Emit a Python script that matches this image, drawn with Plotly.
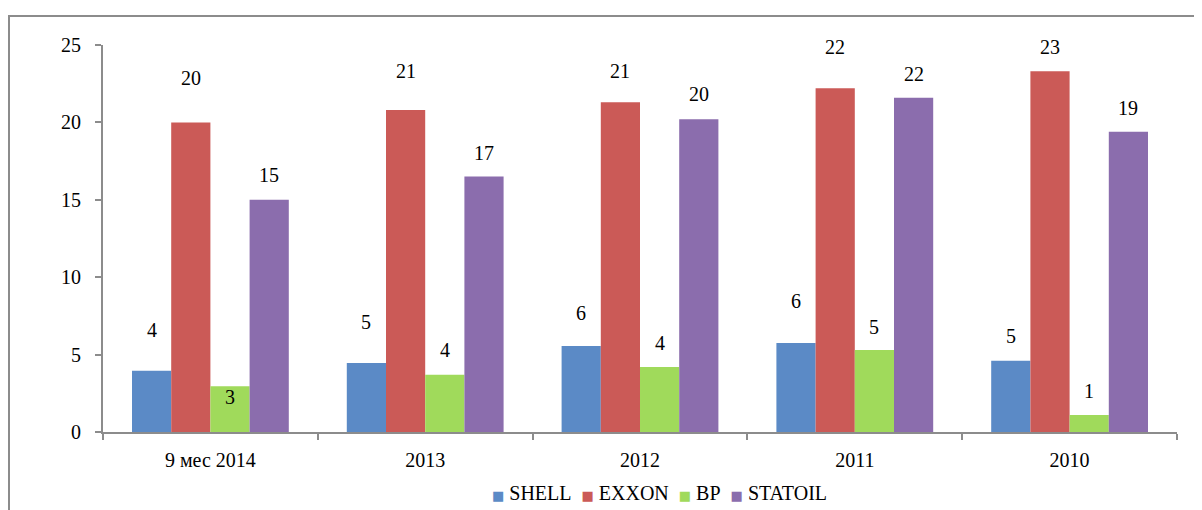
import plotly.graph_objects as go

categories = ["9 мес 2014", "2013", "2012", "2011", "2010"]
series_names = ["SHELL", "EXXON", "BP", "STATOIL"]
shell = [3.95, 4.45, 5.55, 5.75, 4.6]
exxon = [20.0, 20.8, 21.3, 22.2, 23.3]
bp = [2.95, 3.7, 4.2, 5.3, 1.1]
statoil = [15.0, 16.5, 20.2, 21.6, 19.4]
label_text = {
    "SHELL": ["4", "5", "6", "6", "5"],
    "EXXON": ["20", "21", "21", "22", "23"],
    "BP": ["3", "4", "4", "5", "1"],
    "STATOIL": ["15", "17", "20", "22", "19"],
}
# pixel offsets of the label centres above the bar tops (style)
label_shift = {
    "SHELL": [41, 41, 33, 42, 25],
    "EXXON": [44, 39, 31, 41, 24],
    "BP": [-11, 25, 24, 23, 24],
    "STATOIL": [25, 24, 25, 24, 24],
}
colors = ["#5B8AC6", "#CB5A57", "#A0DA5B", "#8B6DAD"]
values = [shell, exxon, bp, statoil]

FONT = "Liberation Serif, Times New Roman, serif"
FS = 20

# figure sits at an 8px body offset in the page
W, H = 1194, 502
ML, MR, MT, MB = 95, 25, 37, 78
PW, PH = W - ML - MR, H - MT - MB

fig = go.Figure()
for name, vals, col in zip(series_names, values, colors):
    fig.add_trace(go.Bar(name=name, x=categories, y=vals, showlegend=False,
                         marker=dict(color=col, line=dict(width=0))))

nser = len(series_names)
bargap = 0.27
bw = (1 - bargap) / nser
annotations = []
for si, (name, vals) in enumerate(zip(series_names, values)):
    for ci, v in enumerate(vals):
        xpos = ci - (1 - bargap) / 2 + bw * (si + 0.5)
        annotations.append(dict(
            x=xpos, y=v, xref="x", yref="y", text=label_text[name][ci],
            showarrow=False, yshift=label_shift[name][ci],
            font=dict(family=FONT, size=FS, color="#000000"),
        ))

NB = "\u00a0"
legend_text = (NB * 2).join(
    f"<span style='color:{c};font-size:13px;font-family:DejaVu Sans'>■</span>{NB}{n}"
    for n, c in zip(series_names, colors)
)
annotations.append(dict(
    x=(659 - 8 - ML) / PW, y=-(493 - 8 - (MT + PH)) / PH, xref="paper", yref="paper",
    xanchor="center", yanchor="middle", showarrow=False, text=legend_text,
    font=dict(family=FONT, size=FS, color="#000000"),
))

fig.update_layout(
    barmode="group", bargap=bargap, bargroupgap=0,
    width=W, height=H,
    margin=dict(l=ML, r=MR, t=MT, b=MB, autoexpand=False),
    plot_bgcolor="white", paper_bgcolor="white",
    font=dict(family=FONT, size=FS, color="#000000"),
    showlegend=False,
    annotations=annotations,
    shapes=[dict(type="rect", xref="paper", yref="paper",
                 x0=(1 - ML) / PW, x1=(W + 20 - ML) / PW,
                 y0=-(H + 20 - MT - PH) / PH, y1=(MT + PH - 8) / PH,
                 line=dict(color="#8C8C8C", width=2), fillcolor="rgba(0,0,0,0)", layer="below")],
)
fig.update_xaxes(
    type="category", range=[-0.5, 4.5], showline=True, linecolor="#8C8C8C", linewidth=2,
    ticks="outside", tickson="boundaries", ticklen=6, tickcolor="#8C8C8C", tickwidth=2,
    showgrid=False, tickfont=dict(family=FONT, size=FS), ticklabelstandoff=9,
)
fig.update_yaxes(
    range=[0, 25], tickvals=[0, 5, 10, 15, 20, 25], showline=True, linecolor="#8C8C8C",
    linewidth=2, ticks="outside", ticklen=6, tickcolor="#8C8C8C", tickwidth=2,
    showgrid=False, zeroline=False, tickfont=dict(family=FONT, size=FS), ticklabelstandoff=10,
)

fig.write_html("out.html")
